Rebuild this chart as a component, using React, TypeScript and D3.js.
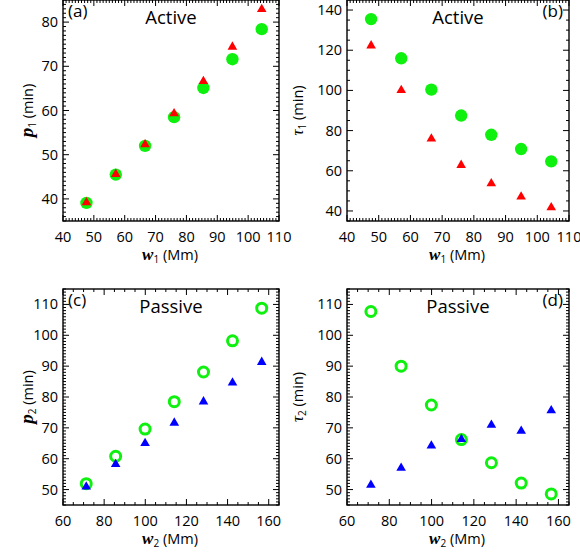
import React from "react";
import * as d3 from "d3";

// ---- data ----
const w1 = [47.6, 57.1, 66.6, 76.0, 85.5, 94.9, 104.4];
const w2 = [71.3, 85.6, 99.9, 114.1, 128.3, 142.4, 156.6];
const p1Green = [39.1, 45.5, 52.0, 58.5, 65.1, 71.6, 78.4];
const p1Red = [39.2, 45.6, 52.3, 59.3, 66.6, 74.4, 82.9];
const tau1Green = [135.5, 116.0, 100.4, 87.5, 77.9, 70.8, 64.7];
const tau1Red = [122.3, 100.1, 75.9, 62.8, 53.7, 47.1, 41.7];
const p2Green = [51.9, 60.8, 69.6, 78.5, 88.1, 98.2, 108.8];
const p2Blue = [50.9, 58.2, 65.0, 71.6, 78.5, 84.6, 91.3];
const tau2Green = [107.7, 90.0, 77.4, 66.2, 58.7, 52.1, 48.6];
const tau2Blue = [51.5, 57.0, 64.2, 66.3, 70.9, 69.0, 75.6];

const xTicksActive = [40, 50, 60, 70, 80, 90, 100, 110];
const xTicksPassive = [60, 80, 100, 120, 140, 160];
const yTicksA = [40, 50, 60, 70, 80];
const yTicksB = [40, 60, 80, 100, 120, 140];
const yTicksCD = [50, 60, 70, 80, 90, 100, 110];

const GREEN = "#0ef00e";
const RED = "#ff0000";
const BLUE = "#0000ff";
const SANS = "'Open Sans', 'Noto Sans', sans-serif";
const SERIF = "'Liberation Serif', 'DejaVu Serif', serif";

type Series = { y: number[]; kind: "disc" | "ring" | "tri"; color: string };

type PanelProps = {
  left: number; right: number; top: number; bottom: number;
  xDomain: [number, number]; yDomain: [number, number];
  xTicks: number[]; xMinor: number; yTicks: number[]; yMinor: number;
  xs: number[]; series: Series[];
  tag: string; tagRight: boolean; title: string;
  yVar: string; yBold: boolean; yTitleX: number; sub: string;
};

function Panel(props: PanelProps) {
  const { left, right, top, bottom, xDomain, yDomain, xTicks, xMinor, yTicks, yMinor, xs, series } = props;
  const x = d3.scaleLinear().domain(xDomain).range([left, right]);
  const y = d3.scaleLinear().domain(yDomain).range([bottom, top]);
  const xMinorTicks = d3.range(Math.ceil(xDomain[0] / xMinor) * xMinor, xDomain[1] + 1e-9, xMinor);
  const yMinorTicks = d3.range(Math.ceil(yDomain[0] / yMinor) * yMinor, yDomain[1] + 1e-9, yMinor);
  const M = 6, m = 3;
  const tri = d3.symbol().type(d3.symbolTriangle).size(40)()!;
  const midX = (left + right) / 2;
  const midY = (top + bottom) / 2;
  return (
    <g>
      {/* markers */}
      {series.map((s, si) =>
        s.y.map((v, i) => {
          const cx = x(xs[i]);
          const cy = y(v);
          if (s.kind === "disc") return <circle key={si + "-" + i} cx={cx} cy={cy} r={6.2} fill={s.color} />;
          if (s.kind === "ring") return <circle key={si + "-" + i} cx={cx} cy={cy} r={5} fill="none" stroke={s.color} strokeWidth={3} />;
          return <path key={si + "-" + i} d={tri} transform={`translate(${cx},${cy})`} fill={s.color} />;
        })
      )}
      {/* frame */}
      <rect x={left} y={top} width={right - left} height={bottom - top} fill="none" stroke="#000" strokeWidth={1.4} />
      {xMinorTicks.map((t, i) => {
        const major = xTicks.includes(Math.round(t * 1000) / 1000);
        const L = major ? M : m;
        return (
          <g key={"xt" + i}>
            <line x1={x(t)} x2={x(t)} y1={bottom} y2={bottom - L} stroke="#000" strokeWidth={1} />
            <line x1={x(t)} x2={x(t)} y1={top} y2={top + L} stroke="#000" strokeWidth={1} />
          </g>
        );
      })}
      {yMinorTicks.map((t, i) => {
        const major = yTicks.includes(Math.round(t * 1000) / 1000);
        const L = major ? M : m;
        return (
          <g key={"yt" + i}>
            <line x1={left} x2={left + L} y1={y(t)} y2={y(t)} stroke="#000" strokeWidth={1} />
            <line x1={right} x2={right - L} y1={y(t)} y2={y(t)} stroke="#000" strokeWidth={1} />
          </g>
        );
      })}
      {/* tick labels */}
      {xTicks.map((t) => (
        <text key={"xl" + t} x={x(t)} y={bottom + 20.5} textAnchor="middle" fontFamily={SANS} fontSize={14.5} fill="#000">{t}</text>
      ))}
      {yTicks.map((t) => (
        <text key={"yl" + t} x={left - 5} y={y(t) + 5} textAnchor="end" fontFamily={SANS} fontSize={14.5} fill="#000">{t}</text>
      ))}
      {/* axis titles */}
      <text x={midX - 1} y={bottom + 39} textAnchor="middle" fontFamily={SANS} fontSize={14.5} fill="#000">
        <tspan fontFamily={SERIF} fontStyle="italic" fontWeight="bold" fontSize={17}>w</tspan>
        <tspan fontSize={10} dy={3}>{props.sub}</tspan>
        <tspan dy={-3}> (Mm)</tspan>
      </text>
      <text transform={`translate(${props.yTitleX},${midY}) rotate(-90)`} textAnchor="middle" fontFamily={SANS} fontSize={14.5} fill="#000">
        <tspan fontFamily={SERIF} fontStyle="italic" fontWeight={props.yBold ? "bold" : "normal"} fontSize={props.yBold ? 19 : 17}>{props.yVar}</tspan>
        <tspan fontSize={10} dy={3}>{props.sub}</tspan>
        <tspan dy={-3}> (min)</tspan>
      </text>
      {/* panel labels */}
      <text x={midX} y={top + 23.5} textAnchor="middle" fontFamily={SANS} fontSize={18.5} fill="#000">{props.title}</text>
      <text x={props.tagRight ? right - 6 : left + 5} y={top + 17} textAnchor={props.tagRight ? "end" : "start"} fontFamily={SANS} fontSize={17} fill="#000">{props.tag}</text>
    </g>
  );
}

export default function App() {
  return (
    <svg width={580} height={554} style={{ position: "absolute", left: 0, top: 0, background: "#fff" }}>
      <rect width={580} height={554} fill="#fff" />
      <Panel left={63} right={279} top={0} bottom={221} xDomain={[40, 110]} yDomain={[35, 85]}
        xTicks={xTicksActive} xMinor={1} yTicks={yTicksA} yMinor={1} xs={w1}
        series={[{ y: p1Green, kind: "disc", color: GREEN }, { y: p1Red, kind: "tri", color: RED }]}
        tag="(a)" tagRight={false} title="Active" yVar="p" yBold={true} yTitleX={33} sub="1" />
      <Panel left={347} right={569} top={0} bottom={221} xDomain={[40, 110]} yDomain={[35, 145]}
        xTicks={xTicksActive} xMinor={1} yTicks={yTicksB} yMinor={5} xs={w1}
        series={[{ y: tau1Green, kind: "disc", color: GREEN }, { y: tau1Red, kind: "tri", color: RED }]}
        tag="(b)" tagRight={true} title="Active" yVar="τ" yBold={false} yTitleX={303} sub="1" />
      <Panel left={63} right={279} top={289} bottom={505} xDomain={[60, 165]} yDomain={[45, 115]}
        xTicks={xTicksPassive} xMinor={5} yTicks={yTicksCD} yMinor={1} xs={w2}
        series={[{ y: p2Green, kind: "ring", color: GREEN }, { y: p2Blue, kind: "tri", color: BLUE }]}
        tag="(c)" tagRight={false} title="Passive" yVar="p" yBold={true} yTitleX={33} sub="2" />
      <Panel left={347} right={569} top={289} bottom={505} xDomain={[60, 165]} yDomain={[45, 115]}
        xTicks={xTicksPassive} xMinor={5} yTicks={yTicksCD} yMinor={1} xs={w2}
        series={[{ y: tau2Green, kind: "ring", color: GREEN }, { y: tau2Blue, kind: "tri", color: BLUE }]}
        tag="(d)" tagRight={true} title="Passive" yVar="τ" yBold={false} yTitleX={303} sub="2" />
    </svg>
  );
}
